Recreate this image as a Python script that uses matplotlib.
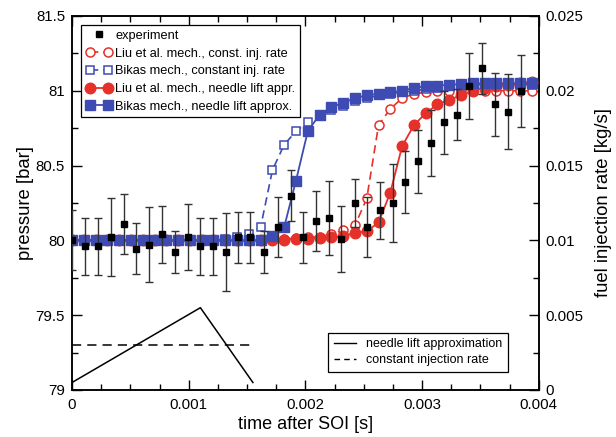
import numpy as np
import matplotlib
matplotlib.use('Agg')
import matplotlib.pyplot as plt
from matplotlib.lines import Line2D
from matplotlib.legend_handler import HandlerLine2D

plt.rcParams['font.family'] = ['Liberation Sans', 'DejaVu Sans']

# measured pressure, with error bars
t_exp = [0.0, 0.000114, 0.00022, 0.000334, 0.000443, 0.000551, 0.00066, 0.000774,
         0.000883, 0.000991, 0.0011, 0.001208, 0.001322, 0.001425, 0.001525, 0.001648,
         0.001763, 0.001874, 0.001977, 0.002091, 0.002199, 0.002307, 0.002422, 0.002525,
         0.002639, 0.002748, 0.002856, 0.002968, 0.003076, 0.003188, 0.003297, 0.003405,
         0.003514, 0.003625, 0.003736, 0.003845]
p_exp = [80.0, 79.96, 79.96, 80.02, 80.11, 79.945, 79.97, 80.04, 79.92, 80.02, 79.96,
         79.96, 79.92, 80.02, 80.02, 79.92, 80.09, 80.30, 80.02, 80.13, 80.15, 80.01,
         80.25, 80.09, 80.20, 80.25, 80.39, 80.53, 80.65, 80.79, 80.84, 81.03, 81.15,
         80.91, 80.86, 81.00]
p_err = [0.2, 0.19, 0.19, 0.26, 0.2, 0.17, 0.25, 0.19, 0.14, 0.22, 0.19, 0.19, 0.26,
         0.17, 0.17, 0.14, 0.2, 0.17, 0.17, 0.2, 0.25, 0.22, 0.16, 0.2, 0.19, 0.26,
         0.21, 0.21, 0.22, 0.21, 0.17, 0.22, 0.17, 0.21, 0.25, 0.24]

# simulation output times
t_model = np.linspace(0, 0.00394, 40)

liu_const = [80.0] * 16 + [80.005, 80.01, 80.01, 80.015, 80.02, 80.025, 80.04, 80.07,
                           80.10, 80.28, 80.77, 80.88, 80.95, 80.98, 80.99, 81.0, 81.0,
                           81.0, 81.0, 81.0, 81.0, 81.0, 81.0, 81.0]
bikas_const = [80.0] * 13 + [80.01, 80.02, 80.04, 80.09, 80.47, 80.64, 80.73, 80.79,
                             80.84, 80.87, 80.9, 80.93, 80.95, 80.97, 80.98, 80.99, 81.0,
                             81.01, 81.02, 81.03, 81.03, 81.04, 81.04, 81.04, 81.04,
                             81.04, 81.04]
liu_nl = [80.0] * 18 + [80.005, 80.01, 80.01, 80.015, 80.02, 80.03, 80.05, 80.06, 80.12,
                        80.32, 80.63, 80.77, 80.85, 80.91, 80.94, 80.97, 81.0, 81.02,
                        81.03, 81.04, 81.05, 81.06]
bikas_nl = [80.0] * 17 + [80.03, 80.09, 80.40, 80.73, 80.84, 80.89, 80.92, 80.95, 80.97,
                          80.98, 80.99, 81.0, 81.02, 81.03, 81.035, 81.04, 81.045, 81.05,
                          81.05, 81.05, 81.05, 81.05, 81.05]

# injection rate profiles [kg/s]
t_inj_nl = [0.0, 0.0011, 0.00155]
rate_nl = [0.0005, 0.0055, 0.0005]
t_inj_const = [0.0, 0.00155]
rate_const = [0.003, 0.003]

red = '#e5312a'
blue = '#3d4bb3'

fig = plt.figure(figsize=(6.16, 4.37), dpi=100)
ax = fig.add_axes([0.1169, 0.1076, 0.7578, 0.8558])
ax2 = ax.twinx()

l_lc, = ax.plot(t_model, liu_const, '--o', color=red, mfc='white', mec=red, ms=6.5,
                mew=1.1, lw=1.2, dashes=(5, 3), zorder=3)
l_bc, = ax.plot(t_model, bikas_const, '--s', color=blue, mfc='white', mec=blue, ms=6,
                mew=1.1, lw=1.2, dashes=(5, 3), zorder=3)
l_ln, = ax.plot(t_model, liu_nl, '-o', color=red, ms=7.6, lw=1.3, zorder=4)
l_bn, = ax.plot(t_model, bikas_nl, '-s', color=blue, ms=7, lw=1.3, zorder=5)

ax.errorbar(t_exp, p_exp, yerr=p_err, fmt='s', color='black', ms=4,
            ecolor='0.2', elinewidth=1.0, capsize=3, capthick=1.0, zorder=6)

ax2.plot(t_inj_nl, rate_nl, '-', color='black', lw=1.1)
ax2.plot(t_inj_const, rate_const, '--', color='black', lw=1.1, dashes=(6, 4))

ax.set_xlim(0, 0.004)
ax.set_ylim(79, 81.5)
ax2.set_ylim(0, 0.025)

ax.set_xticks([0, 0.001, 0.002, 0.003, 0.004])
ax.set_xticklabels(['0', '0.001', '0.002', '0.003', '0.004'])
ax.set_xticks(np.arange(0, 0.0041, 0.00025), minor=True)
ax.set_yticks([79, 79.5, 80, 80.5, 81, 81.5])
ax.set_yticklabels(['79', '79.5', '80', '80.5', '81', '81.5'])
ax.set_yticks(np.arange(79, 81.51, 0.25), minor=True)
ax2.set_yticks([0, 0.005, 0.01, 0.015, 0.02, 0.025])
ax2.set_yticklabels(['0', '0.005', '0.01', '0.015', '0.02', '0.025'])
ax2.set_yticks(np.arange(0, 0.0251, 0.0025), minor=True)

ax.tick_params(which='both', direction='in', top=True, right=False, labelsize=10.8, width=1)
ax.tick_params(which='major', length=7)
ax.tick_params(which='minor', length=4)
ax.tick_params(axis='x', which='major', pad=6)
ax.tick_params(axis='y', which='major', pad=5)
ax2.tick_params(which='both', direction='in', labelsize=10.8, width=1)
ax2.tick_params(which='major', length=7, pad=5)
ax2.tick_params(which='minor', length=4)
for a in (ax, ax2):
    for s in a.spines.values():
        s.set_linewidth(1.1)

ax.set_xlabel('time after SOI [s]', fontsize=13, labelpad=3)
ax.set_ylabel('pressure [bar]', fontsize=13.3, labelpad=1)
ax2.set_ylabel('fuel injection rate [kg/s]', fontsize=13.3, labelpad=8)

h_exp = Line2D([], [], marker='s', ls='none', color='black', ms=4)
leg1 = ax.legend([h_exp, l_lc, l_bc, l_ln, l_bn],
                 ['experiment', 'Liu et al. mech., const. inj. rate',
                  'Bikas mech., constant inj. rate', 'Liu et al. mech., needle lift appr.',
                  'Bikas mech., needle lift approx.'],
                 loc='upper left', bbox_to_anchor=(0.02, 0.975), numpoints=2,
                 handler_map={h_exp: HandlerLine2D(numpoints=1)},
                 fontsize=9.2, fancybox=False, framealpha=1, edgecolor='black',
                 handlelength=2.0, handletextpad=0.3, borderpad=0.35, labelspacing=0.45,
                 borderaxespad=0)
leg1.get_frame().set_linewidth(0.9)
leg1.set_zorder(10)

h_nl = Line2D([], [], color='black', lw=1.0)
h_c = Line2D([], [], color='black', lw=1.0, ls='--', dashes=(4, 3))
leg2 = ax2.legend([h_nl, h_c], ['needle lift approximation', 'constant injection rate'],
                  loc='lower left', bbox_to_anchor=(0.549, 0.049), fontsize=9,
                  fancybox=False, framealpha=1, edgecolor='black', handlelength=1.8,
                  handletextpad=0.8, borderpad=0.45, labelspacing=0.3, borderaxespad=0)
leg2.get_frame().set_linewidth(0.9)

ax.set_zorder(ax2.get_zorder() + 1)
ax.patch.set_visible(False)

fig.savefig('out.png', dpi=100)
